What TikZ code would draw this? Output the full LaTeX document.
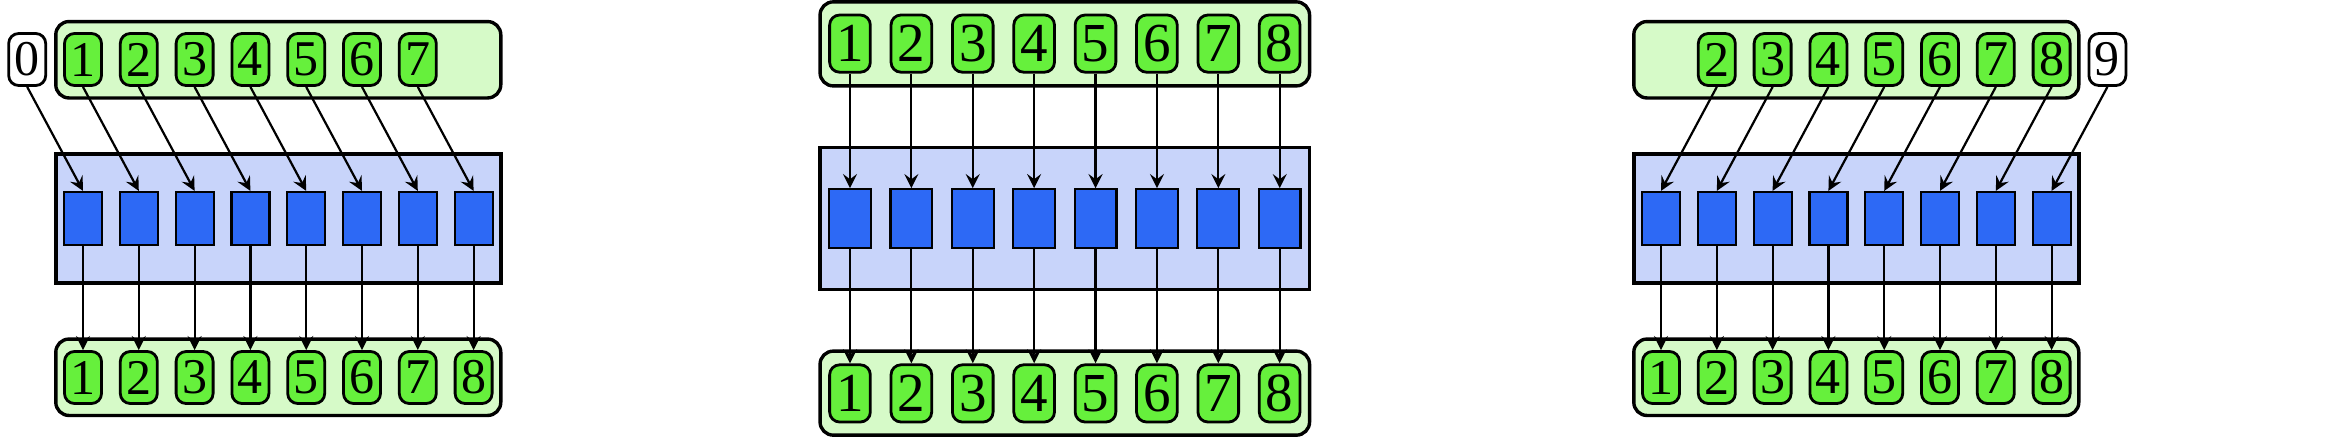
\documentclass[tikz,border=0pt]{standalone}
\usepackage{fontspec}
\setmainfont{Liberation Serif}
\newfontfamily\digitfont{Liberation Serif}
\definecolor{cell}{RGB}{102,240,60}
\definecolor{row}{RGB}{214,250,200}
\definecolor{bank}{RGB}{200,212,250}
\definecolor{unit}{RGB}{45,105,245}
\usetikzlibrary{
  arrows           % stealth tips
}
\tikzset{
  x=0.25pt, y=0.25pt,
  cell/.style = {
    rectangle,
    rounded corners=2.5pt,
    draw, line width=0.7pt,
    fill = cell,
    minimum width=9.25pt,
    minimum height=13pt,
    inner sep=0pt,
    font=\digitfont\fontsize{12.5}{13}\selectfont
  },
  slot/.style = {cell, fill = white},
  unit/.style = {
    rectangle, draw, line width=0.55pt, fill = unit,
    minimum width=9.5pt, minimum height=13.25pt, inner sep=0pt
  },
  row/.style = {
    rectangle, rounded corners=3.3pt,
    draw, line width=0.85pt, fill = row,
    minimum width=111.25pt, minimum height=19.1pt
  },
  bank/.style = {
    rectangle, draw, line width=0.85pt, fill = bank,
    minimum width=111.25pt, minimum height=32.25pt
  },
  link/.style = {->, line width=0.55pt},
  >=stealth  % arrow type
}

\begin{document}
\begin{tikzpicture}
\useasboundingbox (0,0) rectangle (2334,442);

% left: shifted in from 0
\begin{scope}[shift={(27.2,223.5)}]
  \node[row]  (L-top) at (251.1,158.75) {};
  \node[bank] (L-mid) at (251.1,0) {};
  \node[row]  (L-bot) at (251.1,-158.75) {};
  \node[slot] (L-t0) at (0,159) {0};
  \foreach \i in {1,...,7}
    \node[cell] (L-t\i) at (\i*55.8,159) {\i};
  \foreach \i in {1,...,8} {
    \node[unit] (L-u\i) at (\i*55.8,0) {};
    \node[cell] (L-b\i) at (\i*55.8,-159) {\i};
  }
  \foreach \i [evaluate=\i as \j using int(\i-1)] in {1,...,8} {
    \draw[link] (L-t\j.south) -- (L-u\i.north);
    \draw[link] (L-u\i.south) -- (L-b\i.north);
  }
\end{scope}

% middle: straight through
\begin{scope}[shift={(788.6,223.5)}, scale=1.1, transform shape]
  \node[row]  (M-top) at (251.1,158.75) {};
  \node[bank] (M-mid) at (251.1,0) {};
  \node[row]  (M-bot) at (251.1,-158.75) {};
  \foreach \i in {1,...,8} {
    \node[cell] (M-t\i) at (\i*55.8,159) {\i};
    \node[unit] (M-u\i) at (\i*55.8,0) {};
    \node[cell] (M-b\i) at (\i*55.8,-159) {\i};
    \draw[link] (M-t\i.south) -- (M-u\i.north);
    \draw[link] (M-u\i.south) -- (M-b\i.north);
  }
\end{scope}

% right: shifted in from 9
\begin{scope}[shift={(1605.2,223.5)}]
  \node[row]  (R-top) at (251.1,158.75) {};
  \node[bank] (R-mid) at (251.1,0) {};
  \node[row]  (R-bot) at (251.1,-158.75) {};
  \node[slot] (R-t9) at (9*55.8,159) {9};
  \foreach \i in {2,...,8}
    \node[cell] (R-t\i) at (\i*55.8,159) {\i};
  \foreach \i in {1,...,8} {
    \node[unit] (R-u\i) at (\i*55.8,0) {};
    \node[cell] (R-b\i) at (\i*55.8,-159) {\i};
  }
  \foreach \i [evaluate=\i as \j using int(\i+1)] in {1,...,8} {
    \draw[link] (R-t\j.south) -- (R-u\i.north);
    \draw[link] (R-u\i.south) -- (R-b\i.north);
  }
\end{scope}
\end{tikzpicture}
\end{document}
